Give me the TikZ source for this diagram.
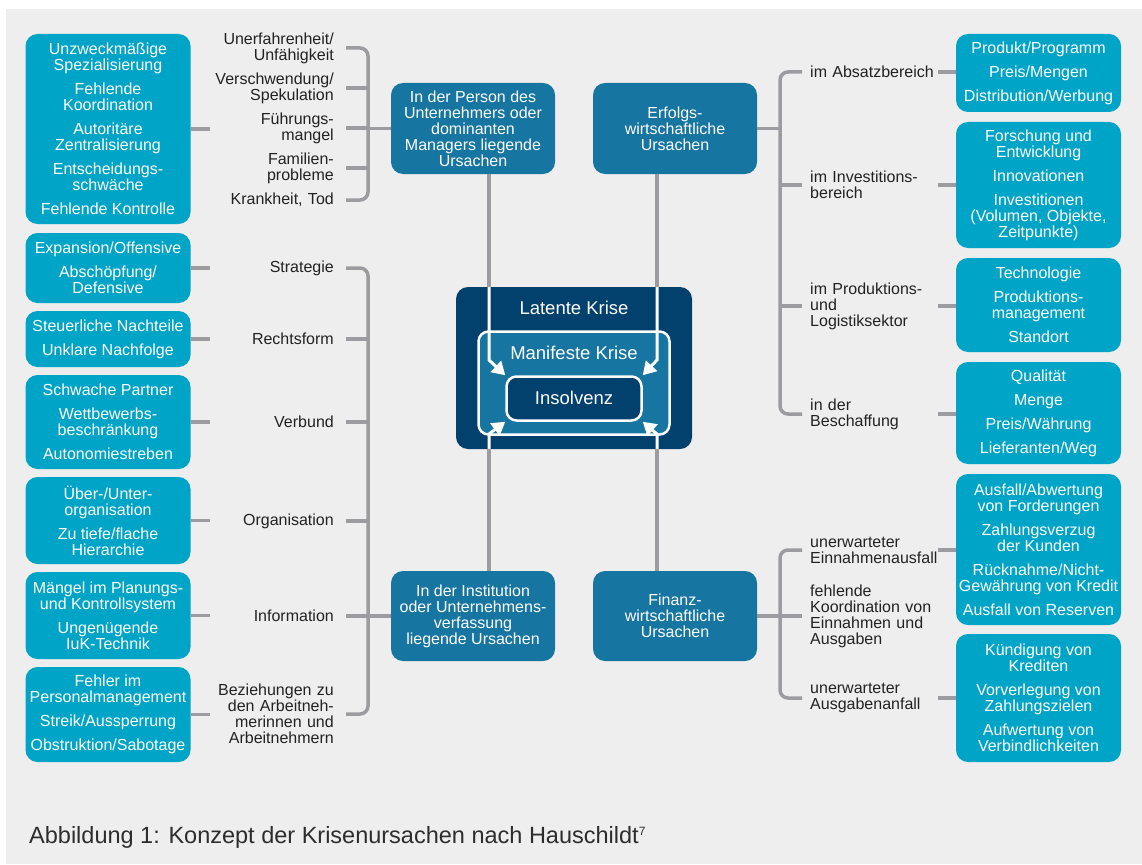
\documentclass[tikz,border=0pt]{standalone}
\usepackage{fontspec}
\setmainfont{Liberation Sans}
\usetikzlibrary{arrows.meta}
\definecolor{bgc}{RGB}{238,238,238}
\definecolor{cyanc}{RGB}{0,164,198}
\definecolor{bluec}{RGB}{22,117,161}
\definecolor{navyc}{RGB}{2,64,110}
\definecolor{greyc}{RGB}{156,156,160}
\definecolor{txtc}{RGB}{34,34,34}
\definecolor{capc}{RGB}{45,45,45}
\newcommand\myfs{\fontsize{16}{16}\selectfont}
\begin{document}
\begin{tikzpicture}[x=1pt,y=-1pt,
  cbox/.style={fill=cyanc, rounded corners=12pt, minimum width=165pt, align=center, inner sep=0pt, text=white, font=\myfs},
  bbox/.style={fill=bluec, rounded corners=12pt, minimum width=164pt, minimum height=91pt, align=center, inner sep=0pt, text=white, font=\myfs},
  llab/.style={anchor=east, text width=124pt, align=right, inner sep=0pt, text=txtc, font=\myfs},
  rlab/.style={anchor=west, text width=125pt, align=left, inner sep=0pt, text=txtc, font=\myfs},
  conn/.style={draw=greyc, line width=3.5pt},
  bracket/.style={draw=greyc, line width=3.5pt, rounded corners=8pt},
  warrow/.style={draw=white, line width=3pt, -{Triangle[width=15pt,length=13pt]}},
  crisis/.style={text=white, font=\fontsize{18.5}{20}\selectfont, inner sep=0pt}
]
\useasboundingbox (0,0) rectangle (1142,864);
\fill[white] (0,0) rectangle (1142,864);
\fill[bgc] (6,9) rectangle (1142,864);

% ---------- central blue boxes
\node[bbox] (person) at (473,128.5) {In der Person des\\Unternehmers oder\\dominanten\\Managers liegende\\Ursachen};
\node[bbox] (erfolg) at (675,128.5) {Erfolgs-\\wirtschaftliche\\Ursachen};
\node[bbox, minimum height=90pt] (inst) at (473,616) {In der Institution\\oder Unternehmens-\\verfassung\\liegende Ursachen};
\node[bbox, minimum height=90pt] (finanz) at (675,616) {Finanz-\\wirtschaftliche\\Ursachen};

% ---------- crisis core
\node[fill=navyc, rounded corners=12pt, minimum width=236pt, minimum height=162pt, inner sep=0pt] (latent) at (574,368) {};
\node[fill=bluec, draw=white, line width=2.5pt, rounded corners=10pt, minimum width=191pt, minimum height=103pt, inner sep=0pt] (manif) at (574,383) {};
\node[fill=navyc, draw=white, line width=2.5pt, rounded corners=10pt, minimum width=135pt, minimum height=44pt, inner sep=0pt] (ins) at (574,398.5) {};
\node[crisis] (latentT) at (574,308) {Latente Krise};
\node[crisis] (manifT) at (574,353) {Manifeste Krise};
\node[crisis] (insT) at (574,398) {Insolvenz};

% ---------- vertical connectors into the core
\coordinate (t1) at ([xshift=16pt]person.south);
\coordinate (t2) at ([xshift=-18pt]erfolg.south);
\coordinate (t3) at ([xshift=16pt]inst.north);
\coordinate (t4) at ([xshift=-18pt]finanz.north);
\draw[conn] (t1) -- (t1 |- latent.north);
\draw[conn] (t2) -- (t2 |- latent.north);
\draw[conn] (t3) -- (t3 |- latent.south);
\draw[conn] (t4) -- (t4 |- latent.south);
\coordinate (k1) at (t1 |- 0,360);
\coordinate (k2) at (t2 |- 0,360);
\coordinate (k3) at (t3 |- 0,434);
\coordinate (k4) at (t4 |- 0,434);
\draw[warrow] (t1 |- latent.north) -- (k1) -- (ins.north west);
\draw[warrow] (t2 |- latent.north) -- (k2) -- (ins.north east);
\draw[warrow] (t3 |- latent.south) -- (k3) -- (ins.south west);
\draw[warrow] (t4 |- latent.south) -- (k4) -- (ins.south east);

% ---------- left labels (person)
\node[llab] (p1) at (334,48) {Unerfahrenheit/\\Unfähigkeit};
\node[llab] (p2) at (334,88) {Verschwendung/\\Spekulation};
\node[llab] (p3) at (334,128) {Führungs-\\mangel};
\node[llab] (p4) at (334,168) {Familien-\\probleme};
\node[llab] (p5) at (334,200) {Krankheit, Tod};
% ---------- left labels (institution)
\node[llab] (s1) at (334,268) {Strategie};
\node[llab] (s2) at (334,339) {Rechtsform};
\node[llab] (s3) at (334,422) {Verbund};
\node[llab] (s4) at (334,521) {Organisation};
\node[llab] (s5) at (334,616) {Information};
\node[llab] (s6) at (334,714) {Beziehungen zu\\den Arbeitneh-\\merinnen und\\Arbeitnehmern};

% ---------- right labels
\node[rlab] (q1) at (810,72) {im Absatzbereich};
\node[rlab] (q2) at (810,185) {im Investitions-\\bereich};
\node[rlab] (q3) at (810,306) {im Produktions-\\und\\Logistiksektor};
\node[rlab] (q4) at (810,414) {in der\\Beschaffung};
\node[rlab] (q5) at (810,550) {unerwarteter\\Einnahmenausfall};
\node[rlab] (q6) at (810,616) {fehlende\\Koordination von\\Einnahmen und\\Ausgaben};
\node[rlab] (q7) at (810,698) {unerwarteter\\Ausgabenanfall};

% ---------- left cyan boxes
\node[cbox, minimum height=190pt] (L1) at (108,129) {Unzweckmäßige\\Spezialisierung\\[8pt]Fehlende\\Koordination\\[8pt]Autoritäre\\Zentralisierung\\[8pt]Entscheidungs-\\schwäche\\[8pt]Fehlende Kontrolle};
\node[cbox, minimum height=70pt] (L2) at (108,268) {Expansion/Offensive\\[8pt]Abschöpfung/\\Defensive};
\node[cbox, minimum height=56pt] (L3) at (108,339) {Steuerliche Nachteile\\[8pt]Unklare Nachfolge};
\node[cbox, minimum height=94pt] (L4) at (108,422) {Schwache Partner\\[8pt]Wettbewerbs-\\beschränkung\\[8pt]Autonomiestreben};
\node[cbox, minimum height=87pt] (L5) at (108,520.5) {Über-/Unter-\\organisation\\[8pt]Zu tiefe/flache\\Hierarchie};
\node[cbox, minimum height=87pt] (L6) at (108,615.5) {Mängel im Planungs-\\und Kontrollsystem\\[8pt]Ungenügende\\IuK-Technik};
\node[cbox, minimum height=95pt] (L7) at (108,714.5) {Fehler im\\Personalmanagement\\[8pt]Streik/Aussperrung\\[8pt]Obstruktion/Sabotage};

% ---------- right cyan boxes
\node[cbox, minimum height=78pt] (R1) at (1038.5,73) {Produkt/Programm\\[8pt]Preis/Mengen\\[8pt]Distribution/Werbung};
\node[cbox, minimum height=126pt] (R2) at (1038.5,185) {Forschung und\\Entwicklung\\[8pt]Innovationen\\[8pt]Investitionen\\(Volumen, Objekte,\\Zeitpunkte)};
\node[cbox, minimum height=94pt] (R3) at (1038.5,305) {Technologie\\[8pt]Produktions-\\management\\[8pt]Standort};
\node[cbox, minimum height=102pt] (R4) at (1038.5,413) {Qualität\\[8pt]Menge\\[8pt]Preis/Währung\\[8pt]Lieferanten/Weg};
\node[cbox, minimum height=151pt] (R5) at (1038.5,549.5) {Ausfall/Abwertung\\von Forderungen\\[8pt]Zahlungsverzug\\der Kunden\\[8pt]Rücknahme/Nicht-\\Gewährung von Kredit\\[8pt]Ausfall von Reserven};
\node[cbox, minimum height=128pt] (R6) at (1038.5,698) {Kündigung von\\Krediten\\[8pt]Vorverlegung von\\Zahlungszielen\\[8pt]Aufwertung von\\Verbindlichkeiten};

% ---------- bracket junctions
\coordinate (brA) at (368,128.5);
\coordinate (brB) at (368,616);
\coordinate (brC) at (780,128.5);
\coordinate (brD) at (780,616);

% left top bracket
\draw[bracket] ([xshift=12pt]p1.east) -| (brA) |- ([xshift=12pt]p5.east);
\foreach \n in {p2,p3,p4} \draw[conn] ([xshift=12pt]\n.east) -- (\n.east -| brA);
\draw[conn] (brA) -- (person.west);
% left bottom bracket
\draw[bracket] ([xshift=12pt]s1.east) -| (brB) |- ([xshift=12pt]s6.east);
\foreach \n in {s2,s3,s4,s5} \draw[conn] ([xshift=12pt]\n.east) -- (\n.east -| brB);
\draw[conn] (brB) -- (inst.west);
% right top bracket
\draw[bracket] ([xshift=-8pt]q1.west) -| (brC) |- ([xshift=-8pt]q4.west);
\foreach \n in {q2,q3} \draw[conn] ([xshift=-8pt]\n.west) -- (\n.west -| brC);
\draw[conn] (erfolg.east) -- (brC);
% right bottom bracket
\draw[bracket] ([xshift=-8pt]q5.west) -| (brD) |- ([xshift=-8pt]q7.west);
\draw[conn] ([xshift=-8pt]q6.west) -- (q6.west -| brD);
\draw[conn] (finanz.east) -- (brD);

% ---------- stubs from cyan boxes to labels
\draw[conn] (L1.east) -- (L1.east -| p3.west);
\draw[conn] (L2.east) -- (L2.east -| s1.west);
\draw[conn] (L3.east) -- (L3.east -| s2.west);
\draw[conn] (L4.east) -- (L4.east -| s3.west);
\draw[conn] (L5.east) -- (L5.east -| s4.west);
\draw[conn] (L6.east) -- (L6.east -| s5.west);
\draw[conn] (L7.east) -- (L7.east -| s6.west);
\draw[conn] ([xshift=3pt]q1.east) -- (q1.east -| R1.west);
\draw[conn] ([xshift=3pt]q2.east) -- (q2.east -| R2.west);
\draw[conn] ([xshift=3pt]q3.east) -- (q3.east -| R3.west);
\draw[conn] ([xshift=3pt]q4.east) -- (q4.east -| R4.west);
\draw[conn] ([xshift=3pt]q5.east) -- (q5.east -| R5.west);
\draw[conn] ([xshift=3pt]q7.east) -- (q7.east -| R6.west);

% ---------- caption
\node[anchor=base west, inner sep=0pt, text=capc, font=\fontsize{23.5}{26}\selectfont] (cap) at (29,843) {Abbildung 1: Konzept der Krisenursachen nach Hauschildt\raisebox{8pt}{\fontsize{12}{12}\selectfont 7}};
\end{tikzpicture}
\end{document}
